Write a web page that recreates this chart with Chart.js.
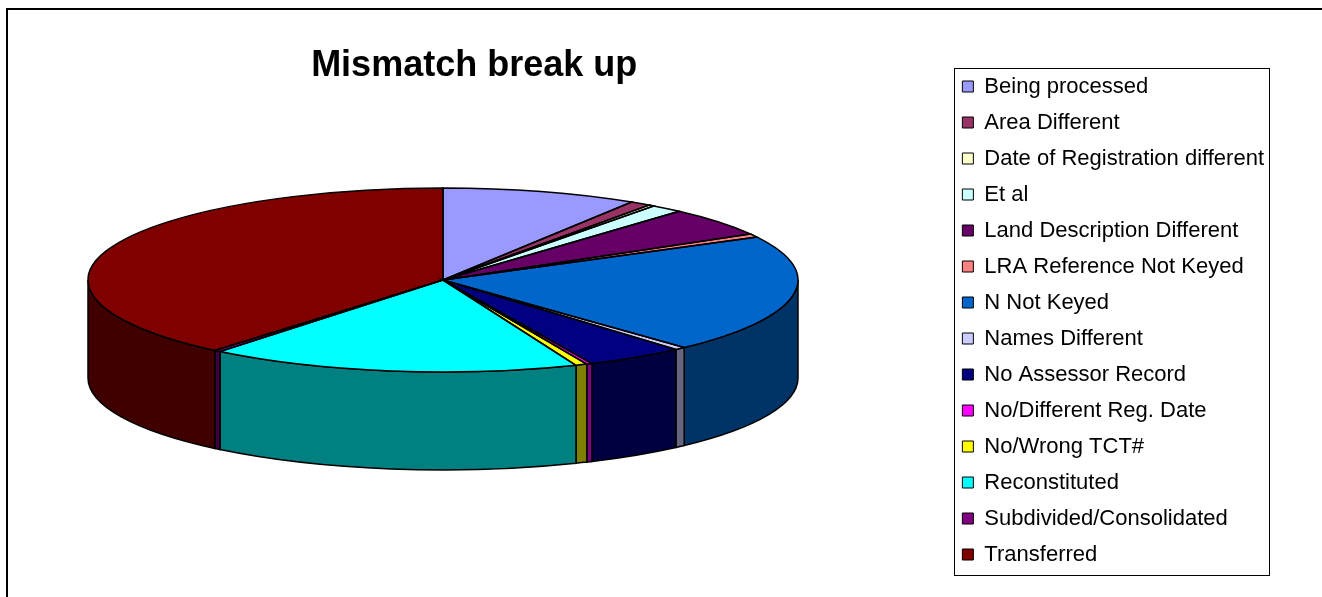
<!DOCTYPE html>
<html>
<head>
<meta charset="utf-8">
<script src="https://cdn.jsdelivr.net/npm/chart.js@4/dist/chart.umd.min.js"></script>
<style>
  html, body { margin: 0; padding: 0; background: #fff; overflow: hidden; }
  #wrap { position: relative; width: 1322px; height: 597px; }
  #frame { position: absolute; left: 6px; top: 8px; width: 1400px; height: 700px;
           border-left: 2px solid #000; border-top: 2px solid #000; pointer-events: none; }
  canvas { position: absolute; left: 0; top: 0; }
</style>
</head>
<body>
<div id="wrap">
  <canvas id="mismatchChart" width="1322" height="597"></canvas>
  <div id="frame"></div>
</div>
<script>
const categories = [
    'Being processed', 'Area Different', 'Date of Registration different', 'Et al',
    'Land Description Different', 'LRA Reference Not Keyed', 'N Not Keyed', 'Names Different',
    'No Assessor Record', 'No/Different Reg. Date', 'No/Wrong TCT#', 'Reconstituted',
    'Subdivided/Consolidated', 'Transferred'
];
const shares = [32.1, 3.4, 0.9, 5.3, 18.3, 2.2, 75.0, 1.8, 16.2, 0.9, 1.9, 60.9, 1.1, 140.0];
const sliceColors = [
    '#9999FF', '#993366', '#FFFFCC', '#CCFFFF', '#660066', '#FF8080', '#0066CC',
    '#CCCCFF', '#000080', '#FF00FF', '#FFFF00', '#00FFFF', '#800080', '#800000'
];

function darken(hex) {
    const n = parseInt(hex.slice(1), 16);
    const r = (n >> 16) & 255, g = (n >> 8) & 255, b = n & 255;
    return 'rgb(' + Math.round(r * 0.5) + ',' + Math.round(g * 0.5) + ',' + Math.round(b * 0.5) + ')';
}

// squashes the flat pie into a tilted disc and draws the rim
const pie3d = {
    id: 'pie3d',
    beforeDatasetsDraw(chart, args, opts) {
        const ctx = chart.ctx;
        const arcs = chart.getDatasetMeta(0).data;
        const { cx, cy, rx, ry, depth } = opts;
        ctx.save();
        ctx.lineWidth = 1.5;
        ctx.strokeStyle = '#000';
        arcs.forEach((arc, i) => {
            const t0 = Math.max(arc.startAngle, 0);
            const t1 = Math.min(arc.endAngle, Math.PI);
            if (t1 <= t0) return;
            ctx.beginPath();
            ctx.ellipse(cx, cy, rx, ry, 0, t0, t1, false);
            ctx.lineTo(cx + rx * Math.cos(t1), cy + ry * Math.sin(t1) + depth);
            ctx.ellipse(cx, cy + depth, rx, ry, 0, t1, t0, true);
            ctx.closePath();
            ctx.fillStyle = darken(sliceColors[i]);
            ctx.fill();
            ctx.stroke();
        });
        ctx.restore();

        const a = arcs[0];
        const R = a.outerRadius;
        ctx.save();
        ctx.translate(cx, cy);
        ctx.scale(rx / R, ry / R);
        ctx.translate(-a.x, -a.y);
    },
    afterDatasetsDraw(chart, args, opts) {
        const ctx = chart.ctx;
        ctx.restore();
        const arcs = chart.getDatasetMeta(0).data;
        const { cx, cy, rx, ry } = opts;
        ctx.save();
        ctx.lineWidth = 1.5;
        ctx.strokeStyle = '#000';
        arcs.forEach((arc) => {
            ctx.beginPath();
            ctx.moveTo(cx, cy);
            ctx.ellipse(cx, cy, rx, ry, 0, arc.startAngle, arc.endAngle, false);
            ctx.closePath();
            ctx.stroke();
        });
        ctx.restore();
    }
};

// border round the legend
const legendBox = {
    id: 'legendBox',
    afterDraw(chart) {
        const boxes = chart.legend && chart.legend.legendHitBoxes;
        if (!boxes || !boxes.length) return;
        const ctx = chart.ctx;
        let left = Infinity, right = -Infinity;
        boxes.forEach(b => { left = Math.min(left, b.left); right = Math.max(right, b.left + b.width); });
        const top = boxes[0].top;
        const bottom = boxes[boxes.length - 1].top + boxes[boxes.length - 1].height;
        ctx.save();
        ctx.strokeStyle = '#000';
        ctx.lineWidth = 1;
        ctx.strokeRect(Math.round(left - 8) + 0.5, Math.round(top - 8) + 0.5,
                       Math.round(right - left + 13), Math.round(bottom - top + 17));
        ctx.restore();
    }
};

const ctx = document.getElementById('mismatchChart').getContext('2d');

new Chart(ctx, {
    type: 'pie',
    data: {
        labels: categories,
        datasets: [{
            data: shares,
            backgroundColor: sliceColors,
            borderWidth: 0
        }]
    },
    options: {
        responsive: false,
        animation: false,
        layout: { padding: { top: 44, right: 48, left: 0, bottom: 0 } },
        plugins: {
            title: {
                display: true,
                text: 'Mismatch break up',
                fullSize: false,
                color: '#000',
                font: { family: '"Liberation Sans", Arial, sans-serif', size: 36, weight: 'bold' },
                padding: { top: 0, bottom: 0 }
            },
            legend: {
                position: 'right',
                align: 'center',
                labels: {
                    boxWidth: 11,
                    boxHeight: 11,
                    padding: 14,
                    color: '#000',
                    font: { family: '"Liberation Sans", Arial, sans-serif', size: 22 },
                    generateLabels: function(chart) {
                        return Chart.overrides.pie.plugins.legend.labels.generateLabels(chart).map(function(item) {
                            item.strokeStyle = '#000';
                            item.lineWidth = 1;
                            return item;
                        });
                    }
                }
            },
            tooltip: { enabled: false },
            pie3d: { cx: 443, cy: 280, rx: 355, ry: 92, depth: 98 }
        }
    },
    plugins: [pie3d, legendBox]
});
</script>
</body>
</html>
